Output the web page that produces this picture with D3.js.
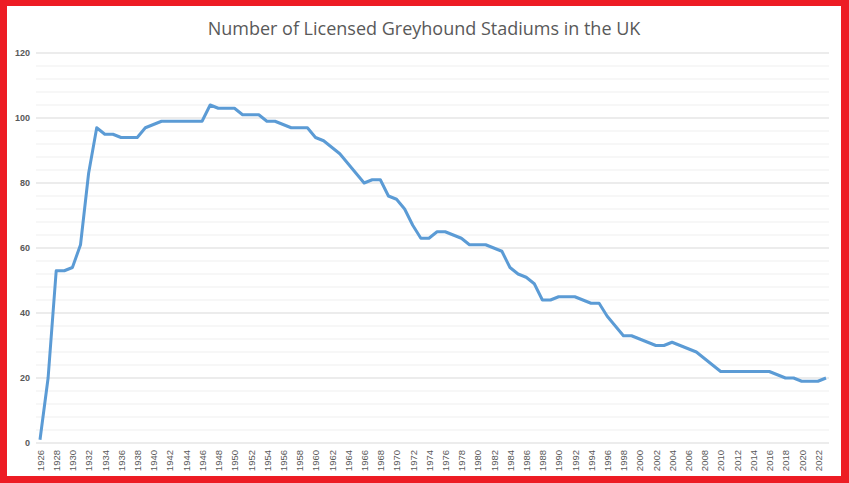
<!DOCTYPE html>
<html><head><meta charset="utf-8">
<script src="https://cdn.jsdelivr.net/npm/d3@7"></script>
<style>body{margin:0;background:#fff}</style></head>
<body><svg id="c" width="849" height="483"></svg>
<script>
const years = d3.range(1926, 2024);
const stadiums = [1,20,53,53,54,61,83,97,95,95,94,94,94,97,98,99,99,99,99,99,99,104,103,103,103,101,101,101,99,99,98,97,97,97,94,93,91,89,86,83,80,81,81,76,75,72,67,63,63,65,65,64,63,61,61,61,60,59,54,52,51,49,44,44,45,45,45,44,43,43,39,36,33,33,32,31,30,30,31,30,29,28,26,24,22,22,22,22,22,22,22,21,20,20,19,19,19,20];
const yTicks = [0,20,40,60,80,100,120];
const title = "Number of Licensed Greyhound Stadiums in the UK";

const svg = d3.select("#c");
svg.append("rect").attr("x",0).attr("y",0).attr("width",849).attr("height",483).attr("fill","#ed1c24");
svg.append("rect").attr("x",7).attr("y",6).attr("width",834).attr("height",470).attr("fill","#fff");

const x = d3.scaleLinear().domain([1926,2023]).range([40,826]);
const y = d3.scaleLinear().domain([0,120]).range([443,53]);

svg.append("g").selectAll("line").data(d3.range(0,121,4)).join("line")
  .attr("x1",36).attr("x2",829).attr("y1",d=>y(d)).attr("y2",d=>y(d))
  .attr("stroke",d=>d%20===0?"#d9d9d9":"#efefef").attr("stroke-width",1);

const ya = svg.append("g").attr("transform","translate(30,0)")
  .call(d3.axisLeft(y).tickValues(yTicks).tickSize(0).tickPadding(0));
ya.select(".domain").remove();
ya.selectAll("text").attr("fill","#595959").attr("font-size",9).attr("font-weight","bold").attr("font-family","Liberation Sans, Arial");

const xa = svg.append("g").attr("transform","translate(0,448)")
  .call(d3.axisBottom(x).tickValues(d3.range(1926,2023,2)).tickFormat(d3.format("d")).tickSize(0));
xa.select(".domain").remove();
xa.selectAll(".tick text").attr("fill","#595959").attr("font-size",9.5).attr("font-family","Liberation Sans, Arial")
  .attr("text-anchor","end").attr("transform","rotate(-90)").attr("x",-2).attr("y",0).attr("dy","0.35em");

svg.append("path").datum(stadiums)
  .attr("d", d3.line().x((d,i)=>x(years[i])).y(d=>y(d)))
  .attr("fill","none").attr("stroke","#5b9bd5").attr("stroke-width",3).attr("stroke-linejoin","round");

svg.append("text").attr("x",424).attr("y",35).attr("text-anchor","middle")
  .attr("font-family","Open Sans, Liberation Sans").attr("font-size",18).attr("fill","#595959").text(title);
</script></body></html>
